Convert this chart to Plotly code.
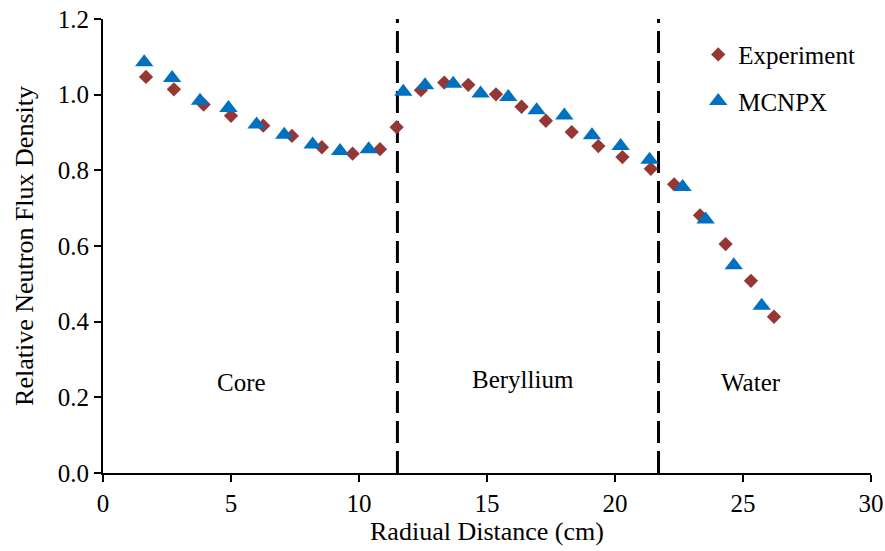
import plotly.graph_objects as go

# Experiment (diamonds)
exp_x = [1.68, 2.77, 3.93, 5.0, 6.26, 7.38, 8.55, 9.75, 10.82, 11.47, 12.42, 13.33, 14.27,
         15.35, 16.35, 17.30, 18.31, 19.35, 20.29, 21.40, 22.31, 23.32, 24.32, 25.31, 26.21]
exp_y = [1.047, 1.014, 0.974, 0.944, 0.918, 0.891, 0.861, 0.844, 0.856, 0.914, 1.012, 1.032, 1.026,
         1.001, 0.968, 0.931, 0.901, 0.864, 0.835, 0.804, 0.763, 0.681, 0.605, 0.508, 0.413]

# MCNPX (triangles)
mc_x = [1.61, 2.70, 3.79, 4.90, 6.00, 7.08, 8.19, 9.26, 10.38, 11.73, 12.58, 13.68, 14.75,
        15.83, 16.94, 18.02, 19.10, 20.22, 21.35, 22.64, 23.54, 24.64, 25.73]
mc_y = [1.086, 1.044, 0.984, 0.965, 0.921, 0.894, 0.868, 0.851, 0.856, 1.008, 1.025, 1.029, 1.003,
        0.994, 0.959, 0.945, 0.893, 0.864, 0.828, 0.756, 0.670, 0.549, 0.442]

# Region boundaries and labels
boundary_x = [11.5, 21.7]
region_labels = ["Core", "Beryllium", "Water"]
region_label_x = [5.4, 16.4, 25.3]
region_label_y = [0.238, 0.246, 0.238]

x_ticks = [0, 5, 10, 15, 20, 25, 30]
y_ticks = [0.0, 0.2, 0.4, 0.6, 0.8, 1.0, 1.2]
y_tick_labels = ["0.0", "0.2", "0.4", "0.6", "0.8", "1.0", "1.2"]

FONT = "Liberation Serif"

fig = go.Figure()
fig.add_trace(go.Scatter(
    x=exp_x, y=exp_y, mode="markers", name="Experiment", legendgroup="a",
    marker=dict(symbol="diamond", size=11, color="#953735"),
))
fig.add_trace(go.Scatter(
    x=mc_x, y=mc_y, mode="markers", name="MCNPX", legendgroup="b",
    marker=dict(symbol="triangle-up", size=16, color="#0070C0"),
))

for bx in boundary_x:
    fig.add_shape(type="line", x0=bx, x1=bx, y0=0, y1=1.2, xref="x", yref="y",
                  line=dict(color="black", width=3, dash="22px,8px"), layer="below")

for t, tx, ty in zip(region_labels, region_label_x, region_label_y):
    fig.add_annotation(x=tx, y=ty, text=t, showarrow=False, xref="x", yref="y",
                       font=dict(family=FONT, size=25, color="black"))

fig.update_layout(
    width=885, height=551,
    margin=dict(l=103, r=14, t=19, b=78),
    plot_bgcolor="white", paper_bgcolor="white",
    font=dict(family=FONT, size=25, color="black"),
    showlegend=True,
    legend=dict(x=0.775, y=0.972, xanchor="left", yanchor="top",
                font=dict(family=FONT, size=25, color="black"),
                tracegroupgap=11, bgcolor="rgba(0,0,0,0)"),
    xaxis=dict(range=[0, 30], tickvals=x_ticks, showgrid=False, zeroline=False,
               showline=True, linecolor="black", linewidth=2, automargin=False,
               ticks="outside", ticklen=7, tickwidth=2, tickcolor="black",
               ticklabeloverflow="allow",
               tickfont=dict(family=FONT, size=25),
               title=dict(text="Radiual Distance (cm)", font=dict(family=FONT, size=26), standoff=4)),
    yaxis=dict(range=[0, 1.2], tickvals=y_ticks, ticktext=y_tick_labels, showgrid=False, zeroline=False,
               showline=True, linecolor="black", linewidth=2, automargin=False,
               ticks="outside", ticklen=7, tickwidth=2, tickcolor="black",
               ticklabeloverflow="allow",
               tickfont=dict(family=FONT, size=25),
               title=dict(text="Relative Neutron Flux Density", font=dict(family=FONT, size=26), standoff=17)),
)

fig.write_html(
    "out.html",
    config={"displayModeBar": False},
    post_script="document.body.style.margin='0';document.body.style.overflow='hidden';",
)
